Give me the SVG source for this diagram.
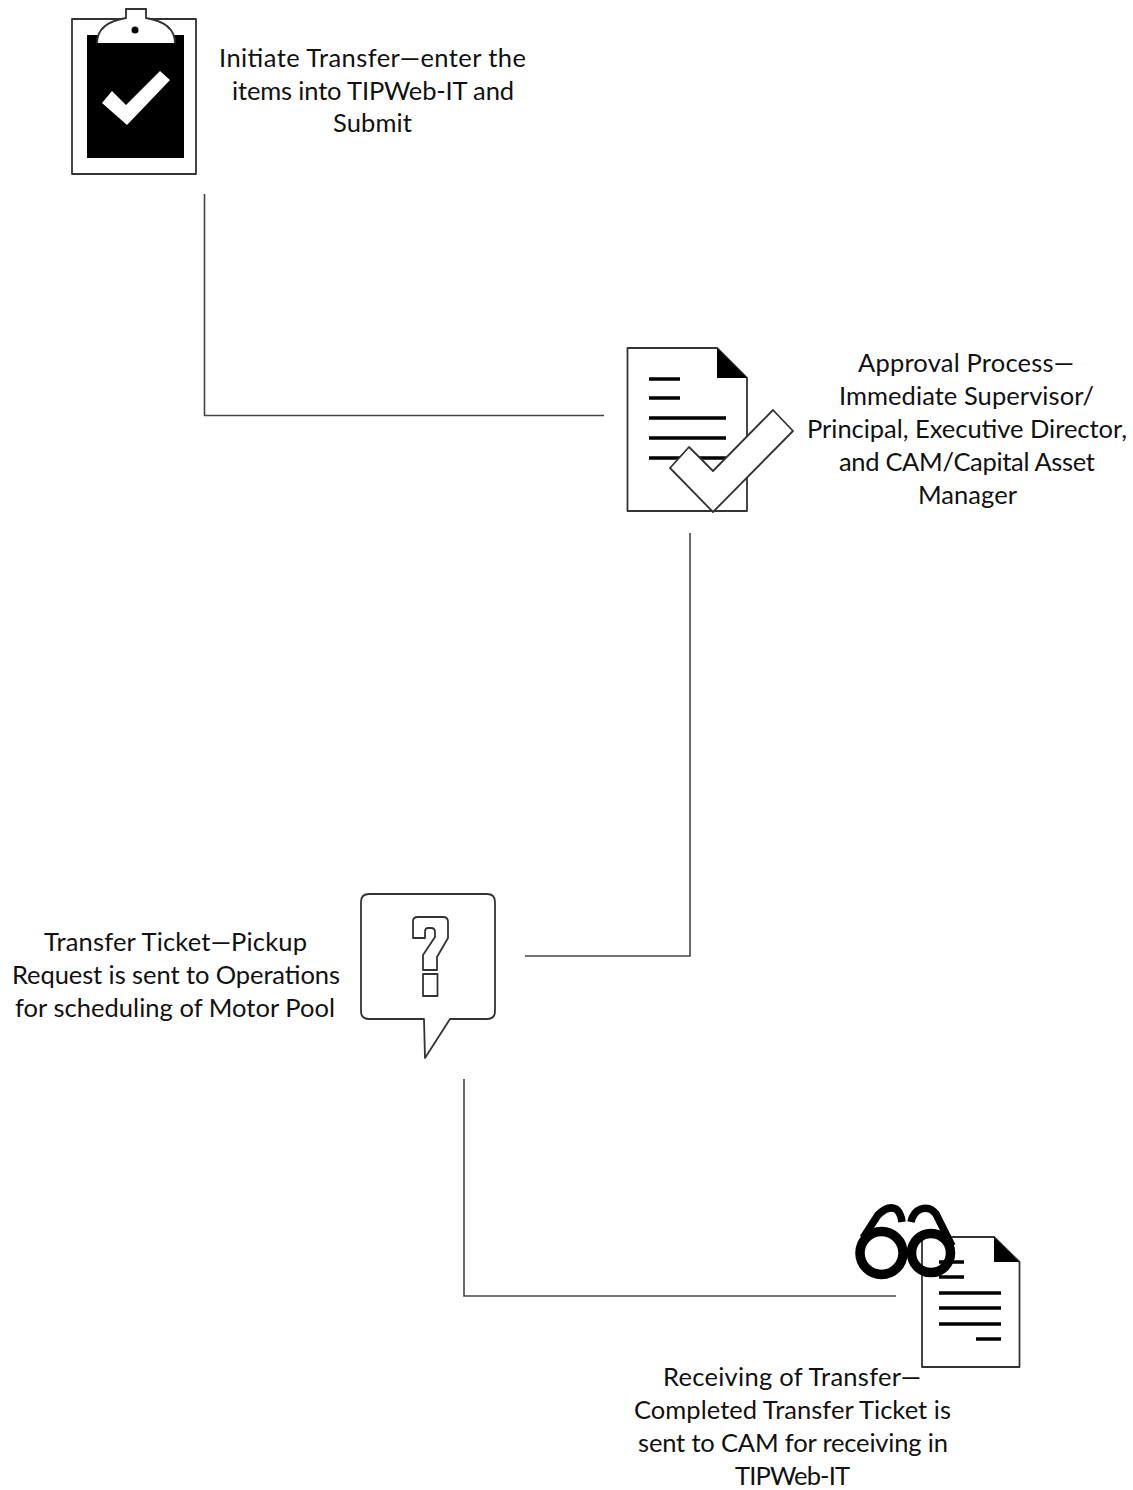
<svg xmlns="http://www.w3.org/2000/svg" width="1133" height="1490" viewBox="0 0 1133 1490">
<style>
.t{font-family:"Lato","Open Sans","Liberation Sans",sans-serif;font-size:25.5px;fill:#111;text-anchor:middle}
.o{fill:#fff;stroke:#333;stroke-width:1.8;stroke-linejoin:round}
.l{fill:none;stroke:#000;stroke-width:3.5}
.c{fill:none;stroke:#444;stroke-width:1.6}
</style>
<rect width="1133" height="1490" fill="#fff"/>
<g id="connectors">
<path class="c" d="M204.500 194V415.500H604"/>
<path class="c" d="M690 533V956H525"/>
<path class="c" d="M464 1079V1296H896"/>
</g>
<g id="node-initiate">
<rect class="o" x="72" y="19" width="124" height="155"/>
<rect x="87" y="35" width="97" height="123" fill="#000"/>
<path fill="#fff" d="M97 43C97 29 108 21 126 18V9H146V18C164 21 175 29 175 43Z"/>
<path fill="none" stroke="#333" stroke-width="1.8" d="M97 43C97 29 108 21 126 18V9H146V18C164 21 175 29 175 43"/>
<circle cx="135" cy="30" r="3.5" fill="#000"/>
<path fill="#fff" d="M102 103L112 91L126 105L160 71L170 80L127 125Z"/>
<text class="t" x="372.500" y="67" textLength="307">Initiate Transfer—enter the</text>
<text class="t" x="373" y="100" textLength="282">items into TIPWeb-IT and</text>
<text class="t" x="372.500" y="132" textLength="79">Submit</text>
</g>
<g id="node-approval">
<path class="o" d="M627.500 348H717L747 378V511H627.500Z"/>
<path d="M717 348V378H747Z" fill="#000"/>
<path class="l" d="M649 379H680M649 398H680M649 418H726M649 438H726M649 458H726"/>
<path class="o" d="M689 447L713 471L773 410L793 431L713 512L670 468Z"/>
<text class="t" x="966" y="372" textLength="216">Approval Process—</text>
<text class="t" x="966.500" y="405" textLength="255">Immediate Supervisor/</text>
<text class="t" x="967" y="438" textLength="320">Principal, Executive Director,</text>
<text class="t" x="967" y="471" textLength="256">and CAM/Capital Asset</text>
<text class="t" x="967.500" y="504" textLength="99">Manager</text>
</g>
<g id="node-ticket">
<path class="o" d="M369 894H487Q495 894 495 902V1011Q495 1019 487 1019H450L425 1058L424 1019H369Q361 1019 361 1011V902Q361 894 369 894Z"/>
<path class="o" d="M413 938V921Q413 917 418 917H443Q448 917 448 922V938L437 957V970H423V955L435 937V932Q435 928 431 928H428Q425 928 425 932V938Z"/>
<rect class="o" x="423" y="974" width="14.500" height="22"/>
<text class="t" x="175.500" y="951" textLength="263">Transfer Ticket—Pickup</text>
<text class="t" x="176" y="984" textLength="328">Request is sent to Operations</text>
<text class="t" x="175" y="1017" textLength="320">for scheduling of Motor Pool</text>
</g>
<g id="node-receiving">
<path class="o" d="M922 1237H994L1019.500 1262V1367H922Z"/>
<path d="M994 1237V1262H1019Z" fill="#000"/>
<path class="l" d="M939 1262H964M939 1277H964M939 1293H1001M939 1308H1001M939 1324H1001M976 1339H1001" stroke-width="3"/>
<g fill="none" stroke="#000" stroke-width="9.500">
<circle cx="881.500" cy="1253" r="21.500"/>
<circle cx="931" cy="1253" r="19.500"/>
<path d="M904 1253H911" stroke-width="6"/>
<path d="M863 1238L878 1215Q888 1205 896 1209Q901 1213 902 1222" stroke-width="7.500"/>
<path d="M911 1222Q913 1212 921 1209Q930 1206 936 1214L952 1246" stroke-width="7.500"/>
</g>
<text class="t" x="792" y="1386" textLength="258">Receiving of Transfer—</text>
<text class="t" x="792.500" y="1419" textLength="317">Completed Transfer Ticket is</text>
<text class="t" x="793" y="1452" textLength="310">sent to CAM for receiving in</text>
<text class="t" x="792.500" y="1485" textLength="115">TIPWeb-IT</text>
</g>
</svg>
